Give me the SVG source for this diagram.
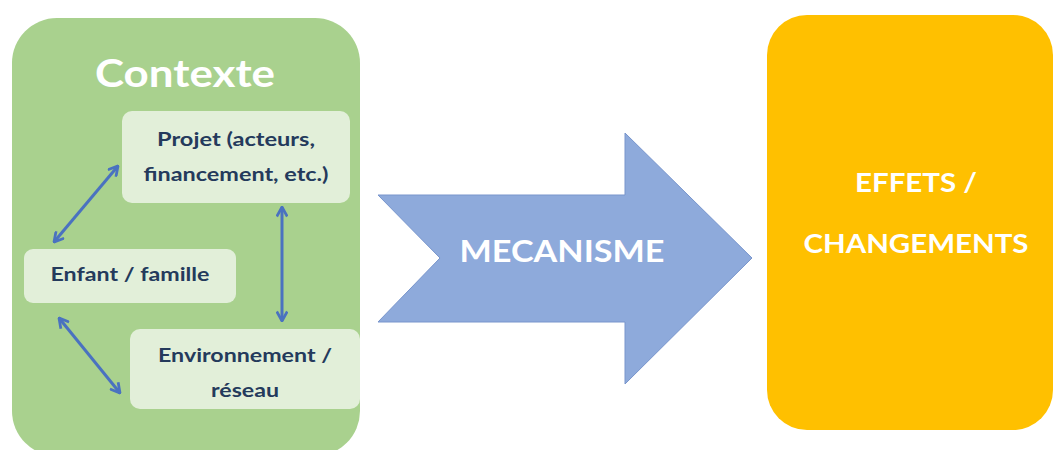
<svg xmlns="http://www.w3.org/2000/svg" width="1054" height="450" viewBox="0 0 1054 450">
<style>
.inner{fill:#e2efd9;}
.small{font-family:Lato,"Liberation Sans",sans-serif;font-weight:bold;font-size:18px;fill:#243a5c;text-anchor:middle;}
.big{font-family:Lato,"Liberation Sans",sans-serif;font-weight:bold;fill:#ffffff;text-anchor:middle;}
.conn{stroke:#4a72c0;stroke-width:3;fill:none;marker-start:url(#ah);marker-end:url(#ah);}
</style>
<defs>
<marker id="ah" viewBox="0 0 10 10" refX="9" refY="5" markerWidth="4.2" markerHeight="4.2" orient="auto-start-reverse" markerUnits="strokeWidth">
<path d="M1.5,0.8 L9,5 L1.5,9.2" fill="none" stroke="#4a72c0" stroke-width="2.2" stroke-linejoin="miter"/>
</marker>
</defs>
<rect width="1054" height="450" fill="#ffffff"/>
<g id="contexte">
<rect x="12" y="18" width="348" height="438" rx="45" fill="#a9d18e"/>
<text class="big" x="185" y="87" font-size="39" textLength="180" lengthAdjust="spacingAndGlyphs">Contexte</text>
</g>
<g id="projet">
<rect class="inner" x="122" y="111" width="228" height="92" rx="10"/>
<text class="small" x="236" y="146" textLength="158" lengthAdjust="spacingAndGlyphs">Projet (acteurs,</text>
<text class="small" x="236" y="181" textLength="185" lengthAdjust="spacingAndGlyphs">financement, etc.)</text>
</g>
<g id="enfant">
<rect class="inner" x="24" y="249" width="212" height="54" rx="9"/>
<text class="small" x="130" y="281" textLength="159" lengthAdjust="spacingAndGlyphs">Enfant / famille</text>
</g>
<g id="environnement">
<rect class="inner" x="130" y="329" width="230" height="80" rx="10"/>
<text class="small" x="245" y="362" textLength="174" lengthAdjust="spacingAndGlyphs">Environnement /</text>
<text class="small" x="245" y="397" textLength="68" lengthAdjust="spacingAndGlyphs">réseau</text>
</g>
<g id="connectors">
<line class="conn" x1="118" y1="166" x2="54" y2="242"/>
<line class="conn" x1="282" y1="207" x2="282" y2="321"/>
<line class="conn" x1="59" y1="318" x2="120" y2="393"/>
</g>
<g id="mecanisme">
<polygon points="378,195 625,195 625,133 752,258 625,384 625,322 378,322 440,258" fill="#8eaadb" stroke="#7895cc" stroke-width="1"/>
<text class="big" x="562" y="262" font-size="30" textLength="205" lengthAdjust="spacingAndGlyphs">MECANISME</text>
</g>
<g id="effets">
<rect x="767" y="15" width="286" height="415" rx="40" fill="#ffc000"/>
<text class="big" x="916" y="192" font-size="26" textLength="122" lengthAdjust="spacingAndGlyphs">EFFETS /</text>
<text class="big" x="916" y="253" font-size="26" textLength="225" lengthAdjust="spacingAndGlyphs">CHANGEMENTS</text>
</g>
</svg>
